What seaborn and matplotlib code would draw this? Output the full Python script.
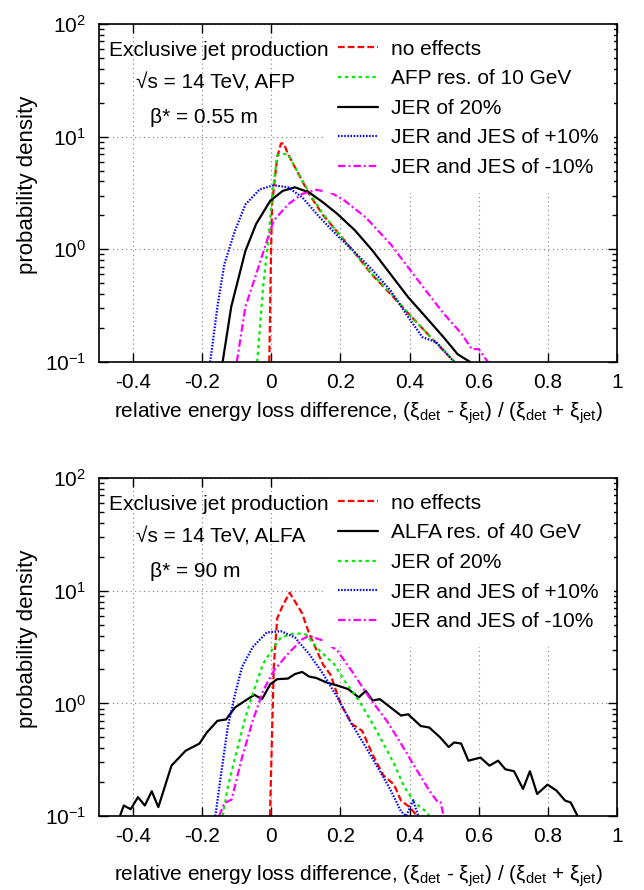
import numpy as np
import pandas as pd
import matplotlib
matplotlib.use("Agg")
import matplotlib.pyplot as plt
import seaborn as sns
from matplotlib.ticker import FixedLocator, FixedFormatter, LogLocator, NullFormatter

# ---------------- data ----------------
# top panel: AFP, beta* = 0.55 m
top_noeff_x = [-0.006, -0.001, 0.002, 0.017, 0.028, 0.036, 0.048, 0.069, 0.109, 0.15, 0.2, 0.25, 0.29, 0.345, 0.396, 0.45, 0.498, 0.53]
top_noeff_y = [0.1, 0.91, 2.5, 6.6, 8.7, 8.7, 7.0, 5.3, 3.1, 2.0, 1.32, 0.86, 0.6, 0.4, 0.27, 0.18, 0.126, 0.1]

top_afp_x = [-0.041, -0.024, -0.008, 0.002, 0.017, 0.033, 0.048, 0.069, 0.109, 0.15, 0.2, 0.25, 0.29, 0.345, 0.396, 0.45, 0.5, 0.53]
top_afp_y = [0.1, 0.46, 1.28, 2.9, 6.8, 7.0, 7.0, 5.3, 3.2, 2.05, 1.3, 0.86, 0.61, 0.41, 0.27, 0.18, 0.125, 0.1]

top_jer_x = [-0.141, -0.116, -0.075, -0.044, -0.003, 0.033, 0.068, 0.109, 0.15, 0.191, 0.242, 0.293, 0.345, 0.396, 0.447, 0.498, 0.539, 0.575]
top_jer_y = [0.1, 0.31, 0.97, 1.68, 2.7, 3.3, 3.55, 3.2, 2.6, 2.06, 1.47, 0.97, 0.6, 0.375, 0.25, 0.166, 0.117, 0.1]

top_jesp_x = [-0.177, -0.156, -0.136, -0.105, -0.075, -0.034, 0.007, 0.048, 0.089, 0.14, 0.191, 0.242, 0.293, 0.345, 0.396, 0.437, 0.477, 0.529]
top_jesp_y = [0.1, 0.31, 0.74, 1.47, 2.5, 3.4, 3.7, 3.55, 2.9, 1.92, 1.32, 0.94, 0.65, 0.43, 0.25, 0.166, 0.15, 0.1]

top_jesm_x = [-0.1, -0.075, -0.044, -0.013, 0.007, 0.048, 0.089, 0.13, 0.171, 0.212, 0.273, 0.345, 0.396, 0.447, 0.498, 0.549, 0.58, 0.6, 0.626]
top_jesm_y = [0.1, 0.31, 0.6, 1.19, 1.8, 2.5, 3.1, 3.37, 3.2, 2.7, 1.92, 1.11, 0.69, 0.43, 0.27, 0.18, 0.13, 0.13, 0.1]

# bottom panel: ALFA, beta* = 90 m
bot_noeff_x = [-0.004, 0.002, 0.007, 0.017, 0.033, 0.053, 0.089, 0.109, 0.13, 0.15, 0.171, 0.2, 0.232, 0.263, 0.293, 0.324, 0.355, 0.375, 0.4, 0.416, 0.42]
bot_noeff_y = [0.1, 0.54, 2.1, 5.7, 7.4, 9.6, 6.3, 4.2, 3.0, 2.2, 1.8, 1.0, 0.66, 0.57, 0.35, 0.23, 0.19, 0.137, 0.12, 0.105, 0.1]

bot_alfa_x = [-0.438, -0.427, -0.407, -0.386, -0.366, -0.346, -0.327, -0.289, -0.248, -0.208, -0.187, -0.156, -0.131, -0.105,
              -0.075, -0.049, -0.027, -0.003, 0.017, 0.048, 0.068, 0.089, 0.109, 0.13, 0.16, 0.191, 0.222, 0.253, 0.273, 0.293,
              0.314, 0.345, 0.375, 0.396, 0.432, 0.457, 0.488, 0.513, 0.529, 0.549, 0.57, 0.605, 0.631, 0.656, 0.677, 0.702,
              0.728, 0.748, 0.769, 0.799, 0.825, 0.85, 0.866, 0.886]
bot_alfa_y = [0.1, 0.124, 0.115, 0.147, 0.124, 0.166, 0.12, 0.28, 0.38, 0.44, 0.55, 0.70, 0.72, 0.92,
              1.06, 1.19, 1.09, 1.48, 1.64, 1.66, 1.82, 1.9, 1.73, 1.68, 1.53, 1.44, 1.34, 1.13, 1.29, 1.06,
              1.09, 0.92, 0.78, 0.80, 0.63, 0.61, 0.50, 0.41, 0.45, 0.44, 0.31, 0.33, 0.28, 0.31, 0.26, 0.25,
              0.174, 0.25, 0.157, 0.19, 0.168, 0.137, 0.132, 0.1]

bot_jer_x = [-0.141, -0.126, -0.105, -0.075, -0.054, -0.024, 0.007, 0.028, 0.068, 0.099, 0.14, 0.181, 0.212, 0.253, 0.293, 0.324, 0.355, 0.385, 0.416, 0.447, 0.457]
bot_jer_y = [0.1, 0.18, 0.33, 0.75, 1.21, 2.24, 3.16, 3.85, 4.2, 4.1, 2.93, 2.24, 1.58, 1.06, 0.66, 0.44, 0.29, 0.18, 0.13, 0.11, 0.1]

bot_jesp_x = [-0.162, -0.146, -0.126, -0.105, -0.085, -0.054, -0.013, 0.028, 0.068, 0.109, 0.15, 0.191, 0.232, 0.273, 0.314, 0.345, 0.375, 0.39, 0.41, 0.425]
bot_jesp_y = [0.1, 0.23, 0.62, 1.21, 2.1, 3.16, 4.27, 4.37, 3.85, 2.75, 1.82, 1.13, 0.66, 0.41, 0.25, 0.17, 0.11, 0.1, 0.138, 0.1]

bot_jesm_x = [-0.151, -0.136, -0.115, -0.085, -0.054, -0.024, 0.007, 0.048, 0.089, 0.109, 0.15, 0.191, 0.232, 0.283, 0.334, 0.375, 0.416, 0.457, 0.482, 0.49, 0.498]
bot_jesm_y = [0.1, 0.13, 0.14, 0.33, 0.70, 1.29, 1.95, 2.75, 3.7, 3.98, 3.6, 2.93, 1.95, 1.13, 0.70, 0.44, 0.27, 0.168, 0.132, 0.132, 0.1]

x_ticks = [-0.4, -0.2, 0.0, 0.2, 0.4, 0.6, 0.8, 1.0]
x_ticklabels = ["-0.4", "-0.2", "0", "0.2", "0.4", "0.6", "0.8", "1"]
y_ticks = [0.1, 1, 10, 100]
y_ticklabels = [r"$10^{-1}$", r"$10^{0}$", r"$10^{1}$", r"$10^{2}$"]

top_labels = ["no effects", "AFP res. of 10 GeV", "JER of 20%", "JER and JES of +10%", "JER and JES of -10%"]
bot_labels = ["no effects", "ALFA res. of 40 GeV", "JER of 20%", "JER and JES of +10%", "JER and JES of -10%"]
top_info = ["Exclusive jet production", "\u221as = 14 TeV, AFP", "\u03b2* = 0.55 m"]
bot_info = ["Exclusive jet production", "\u221as = 14 TeV, ALFA", "\u03b2* = 90 m"]
xlabel = "relative energy loss difference, (\u03be$_\\mathrm{det}$ - \u03be$_\\mathrm{jet}$) / (\u03be$_\\mathrm{det}$ + \u03be$_\\mathrm{jet}$)"
ylabel = "probability density"

# ---------------- style ----------------
sns.set_style("ticks")
plt.rcParams["font.family"] = ["Liberation Sans", "DejaVu Sans"]
plt.rcParams["mathtext.fontset"] = "custom"
plt.rcParams["mathtext.rm"] = "Liberation Sans"
plt.rcParams["mathtext.it"] = "Liberation Sans:italic"
plt.rcParams["mathtext.bf"] = "Liberation Sans:bold"
plt.rcParams["axes.unicode_minus"] = False
plt.rcParams["axes.linewidth"] = 1.2
for k in ["text.color", "axes.labelcolor", "xtick.color", "ytick.color", "axes.edgecolor"]:
    plt.rcParams[k] = "black"
FS = 15

RED = "#ff0000"; GREEN = "#00ee00"; BLUE = "#0000ff"; MAG = "#ff00ff"; BLACK = "#000000"
LS_RED = (0, (3.0, 1.4))
LS_GREEN = (0, (1.5, 1.6))
LS_BLUE = (0, (0.7, 0.7))
LS_MAG = (0, (3.4, 1.3, 0.9, 1.3))
LS_BLACK = "-"

fig = plt.figure(figsize=(6.44, 8.9), dpi=100)
ax_top = fig.add_axes([0.1530, 0.5933, 0.8051, 0.3798])
ax_bot = fig.add_axes([0.1530, 0.0831, 0.8051, 0.3798])


def draw(ax, series, labels, info):
    for (xs, ys, color, ls), lab in zip(series, labels):
        df = pd.DataFrame({"x": xs, "y": ys})
        sns.lineplot(data=df, x="x", y="y", ax=ax, color=color, lw=1.6,
                     estimator=None, sort=False, label=lab)
        ax.get_lines()[-1].set_linestyle(ls)
    ax.set_yscale("log")
    ax.set_xlim(-0.5, 1.0)
    ax.set_ylim(0.1, 100)
    ax.xaxis.set_major_locator(FixedLocator(x_ticks))
    ax.xaxis.set_major_formatter(FixedFormatter(x_ticklabels))
    ax.yaxis.set_major_locator(FixedLocator(y_ticks))
    ax.yaxis.set_major_formatter(FixedFormatter(y_ticklabels))
    ax.yaxis.set_minor_locator(LogLocator(base=10, subs=np.arange(2, 10)))
    ax.yaxis.set_minor_formatter(NullFormatter())
    ax.tick_params(which="both", direction="in", top=True, right=True,
                   labelsize=FS, width=1.0, color="black", labelcolor="black")
    ax.tick_params(which="major", length=6.5)
    ax.tick_params(which="minor", length=3.3)
    ax.tick_params(axis="x", pad=8)
    ax.tick_params(axis="y", pad=9)
    ax.grid(True, which="major", color="#7f7f7f", lw=0.8, ls=(0, (1, 3)))
    ax.set_xlabel("")
    ax.set_ylabel("")
    for s in ax.spines.values():
        s.set_linewidth(1.2)
        s.set_color("black")
        s.set_zorder(10)
    handles, labs = ax.get_legend_handles_labels()
    leg = ax.legend(handles, labs, loc="upper left", bbox_to_anchor=(0.432, 1.0),
                    borderaxespad=0, borderpad=0.75, handlelength=1.92,
                    handletextpad=0.62, labelspacing=0.51, fontsize=FS,
                    frameon=True, fancybox=False, framealpha=1.0,
                    facecolor="white", edgecolor="none")
    for t in leg.get_texts():
        t.set_color("black")
    leg.set_zorder(5)
    ys_ = [0.922, 0.8266, 0.7243]
    xs_ = [0.021, 0.0723, 0.0993]
    for t, xx, yy in zip(info, xs_, ys_):
        ax.text(xx, yy, t, transform=ax.transAxes, ha="left", va="center",
                fontsize=FS, zorder=6, color="black")


draw(ax_top, [(top_noeff_x, top_noeff_y, RED, LS_RED),
              (top_afp_x, top_afp_y, GREEN, LS_GREEN),
              (top_jer_x, top_jer_y, BLACK, LS_BLACK),
              (top_jesp_x, top_jesp_y, BLUE, LS_BLUE),
              (top_jesm_x, top_jesm_y, MAG, LS_MAG)], top_labels, top_info)

draw(ax_bot, [(bot_noeff_x, bot_noeff_y, RED, LS_RED),
              (bot_alfa_x, bot_alfa_y, BLACK, LS_BLACK),
              (bot_jer_x, bot_jer_y, GREEN, LS_GREEN),
              (bot_jesp_x, bot_jesp_y, BLUE, LS_BLUE),
              (bot_jesm_x, bot_jesm_y, MAG, LS_MAG)], bot_labels, bot_info)

# axis labels placed to match reference positions
fig.text(358 / 644, 1 - 418 / 890, xlabel, ha="center", va="baseline", fontsize=FS, color="black")
fig.text(358 / 644, 1 - 881 / 890, xlabel, ha="center", va="baseline", fontsize=FS, color="black")
fig.text(28 / 644, 1 - 185 / 890, ylabel, ha="center", va="center", rotation=90, fontsize=16, color="black")
fig.text(28 / 644, 1 - 639 / 890, ylabel, ha="center", va="center", rotation=90, fontsize=16, color="black")

fig.savefig("out.png", dpi=100)
